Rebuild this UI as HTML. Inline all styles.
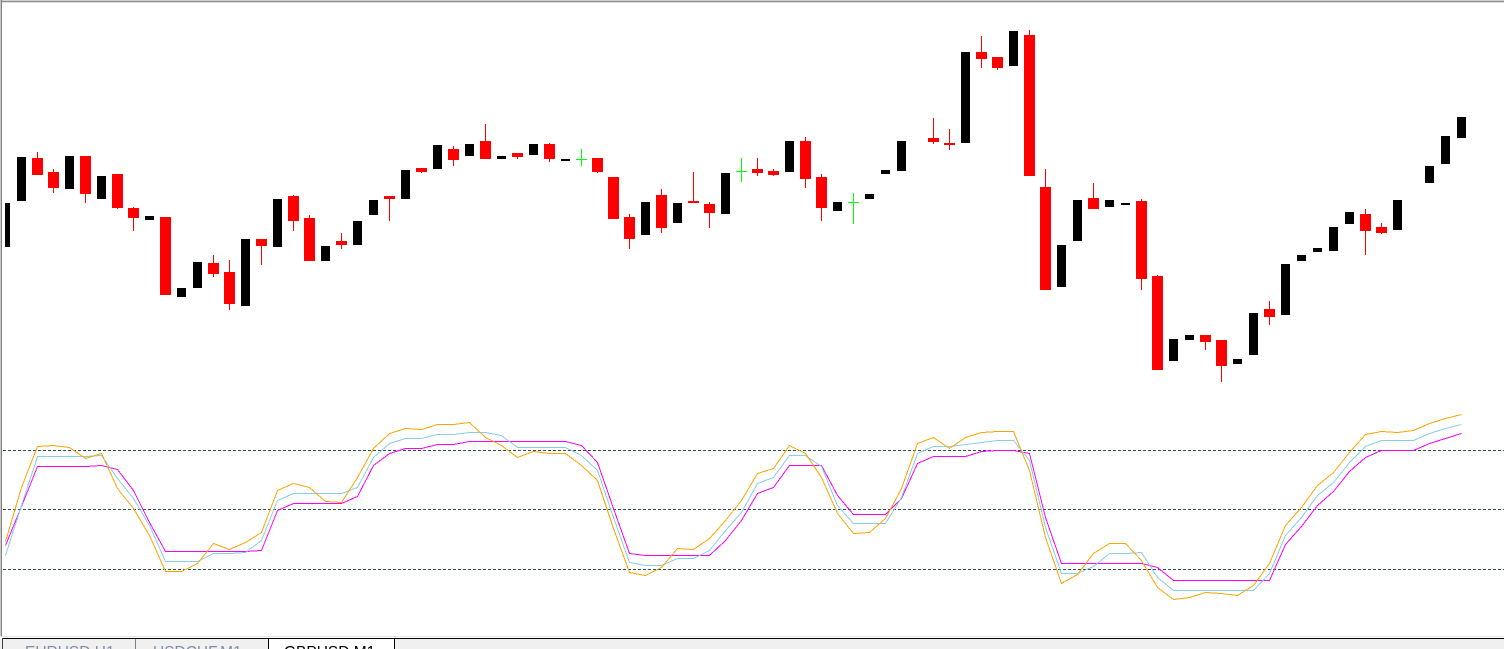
<!DOCTYPE html>
<html>
<head>
<meta charset="utf-8">
<style>
html,body{margin:0;padding:0;background:#fff;}
body{width:1504px;height:649px;overflow:hidden;position:relative;}
svg{position:absolute;left:0;top:0;}
</style>
</head>
<body>
<svg id="c" width="1504" height="649" viewBox="0 0 1504 649" xmlns="http://www.w3.org/2000/svg">
<rect x="0" y="0" width="1504" height="649" fill="#ffffff"/>
<rect x="0" y="0" width="1504" height="1" fill="#d0d0d0"/>
<rect x="0" y="1" width="1504" height="1" fill="#909090"/>
<rect x="0" y="2" width="1504" height="1" fill="#dcdcdc"/>
<rect x="0" y="0" width="1" height="637" fill="#c8c8c8"/>
<rect x="1" y="0" width="1" height="637" fill="#808080"/>
<g stroke="#2f4f4f" stroke-width="1" stroke-dasharray="3,2" shape-rendering="crispEdges">
<line x1="3" y1="450.5" x2="1504" y2="450.5"/>
<line x1="3" y1="509.5" x2="1504" y2="509.5"/>
<line x1="3" y1="569.5" x2="1504" y2="569.5"/>
</g>
<g id="cd" shape-rendering="crispEdges"></g>
<g id="ln" fill="none" stroke-width="1" shape-rendering="crispEdges"></g>
<rect x="0" y="636" width="1504" height="1" fill="#e3e3e3"/>
<rect x="0" y="639" width="1504" height="10" fill="#f0f0f0"/>
<rect x="268" y="639" width="127" height="10" fill="#ffffff"/>
<rect x="2" y="638" width="1502" height="1" fill="#000000"/>
<rect x="2" y="638" width="1" height="11" fill="#404040"/>
<rect x="135" y="639" width="1" height="10" fill="#808080"/>
<rect x="268" y="638" width="1" height="11" fill="#000000"/>
<rect x="394" y="638" width="1" height="11" fill="#000000"/>
<g font-family="Liberation Sans, Arial, sans-serif" font-size="15.5">
<text x="25" y="657" fill="#7d8ea3">EURUSD,H1</text>
<text x="153" y="657" fill="#7d8ea3">USDCHF,M1</text>
<text x="284" y="657" fill="#000000">GBPUSD,M1</text>
</g>
</svg>
<script>
(function(){
var NS="http://www.w3.org/2000/svg";
function R(p,x,y,w,h,f){var r=document.createElementNS(NS,"rect");r.setAttribute("x",x);r.setAttribute("y",y);r.setAttribute("width",w);r.setAttribute("height",h);r.setAttribute("fill",f);p.appendChild(r);}
var C=[[0,"B",203,247],[1,"B",157,201],[2,"R",158,175,152,175],[3,"R",172,188,169,193],[4,"B",156,189],[5,"R",156,194,156,203],[6,"B",176,199],[7,"R",174,208,174,209],[8,"R",208,218,207,231],[9,"B",216,220],[10,"R",217,295,217,295],[11,"B",288,297],[12,"B",262,288],[13,"R",263,274,255,277],[14,"R",272,304,260,310],[15,"B",239,306],[16,"R",239,246,239,265],[17,"B",199,247],[18,"R",196,221,195,231],[19,"R",218,261,215,261],[20,"B",246,261],[21,"R",241,245,233,249],[22,"B",221,245],[23,"B",200,215],[24,"R",196,199,196,221],[25,"B",170,199],[26,"R",168,172,168,173],[27,"B",145,169],[28,"R",149,160,146,166],[29,"B",144,156],[30,"R",141,159,124,159],[31,"B",156,159],[32,"R",153,157,153,159],[33,"B",144,155],[34,"R",144,159,143,162],[35,"B",159,161],[36,"G",159,159,149,166],[37,"R",158,172,158,173],[38,"R",177,219,177,219],[39,"R",217,239,214,249],[40,"B",202,235],[41,"R",195,228,189,233],[42,"B",203,223],[43,"R",201,203,172,203],[44,"R",204,213,202,228],[45,"B",173,214],[46,"G",171,171,158,182],[47,"R",169,173,158,176],[48,"R",171,175,169,176],[49,"B",141,172],[50,"R",141,179,137,188],[51,"R",177,208,174,221],[52,"B",202,211],[53,"G",202,202,193,224],[54,"B",194,199],[55,"B",170,174],[56,"B",141,171],[58,"R",138,142,118,144],[59,"R",143,145,129,150],[60,"B",52,143],[61,"R",52,59,36,68],[62,"R",57,68,57,70],[63,"B",31,66],[64,"R",35,176,30,176],[65,"R",187,290,169,290],[66,"B",245,287],[67,"B",200,241],[68,"R",198,209,183,209],[69,"B",200,207],[70,"B",203,205],[71,"R",201,279,199,290],[72,"R",276,370,275,370],[73,"B",339,361],[74,"B",335,340],[75,"R",335,342,335,350],[76,"R",340,366,340,382],[77,"B",359,364],[78,"B",313,355],[79,"R",309,317,301,325],[80,"B",264,315],[81,"B",255,261],[82,"B",248,252],[83,"B",227,251],[84,"B",212,224],[85,"R",214,231,209,255],[86,"R",227,233,223,234],[87,"B",200,230],[89,"B",166,183],[90,"B",136,164],[91,"B",117,138]];
var g=document.getElementById("cd");
C.forEach(function(d){
  var c=5.5+16*d[0];
  if(d[1]=="B"){
    if(d[0]==0){R(g,5,d[2],5,d[3]-d[2],"#000000");}
    else R(g,c-4.5,d[2],9,d[3]-d[2],"#000000");
  } else if(d[1]=="R"){
    R(g,c-0.5,d[4],1,d[5]-d[4],"#ff0000");
    R(g,c-5.5,d[2],11,d[3]-d[2],"#ff0000");
  } else {
    R(g,c-5.5,d[2],11,1,"#00ff00");
    R(g,c-0.5,d[4],1,d[5]-d[4],"#00ff00");
  }
});
var O=[541,487,446,445,447,458,453,488,508,535,571,571,563,543,549,542,532,490,483,487,501,502,477,448,433,428,429,424,424,422,437,445,457,451,453,453,465,480,528,572,575,567,548,549,538,520,500,473,468,445,453,477,513,533,532,518,488,443,437,448,437,432,431,431,470,537,583,574,553,543,543,560,587,599,597,592,593,595,585,563,525,507,485,472,452,434,431,432,430,423,418,414];
var Bl=[555,505,456,456,456,456,455,478,498,525,561,561,561,553,553,552,540,500,493,493,493,493,487,457,443,438,438,434,434,432,432,435,447,447,447,447,455,470,517,562,565,565,558,558,550,530,512,483,477,455,455,466,505,523,523,523,497,453,446,446,444,442,440,440,460,527,573,573,566,553,553,552,577,590,590,590,590,590,590,573,535,517,495,482,462,446,440,440,440,433,428,424];
var M=[545,506,466,466,466,466,465,469,490,522,551,551,551,551,551,551,550,510,503,503,503,503,496,465,453,448,448,444,444,441,441,441,441,441,441,441,445,462,508,553,555,555,555,555,555,540,520,493,487,465,465,465,495,514,514,514,498,463,456,456,456,451,450,450,453,517,563,563,563,563,563,563,567,580,580,580,580,580,580,580,544,526,505,491,471,457,450,450,450,443,438,433];
var ln=document.getElementById("ln");
[[M,"#ff00ff"],[Bl,"#87ceeb"],[O,"#ffa500"]].forEach(function(s){
  var p=document.createElementNS(NS,"polyline");
  p.setAttribute("points",s[0].map(function(v,i){return (5.5+16*i)+","+(v+0.5);}).join(" "));
  p.setAttribute("stroke",s[1]);
  ln.appendChild(p);
});
})();
</script>
</body>
</html>
